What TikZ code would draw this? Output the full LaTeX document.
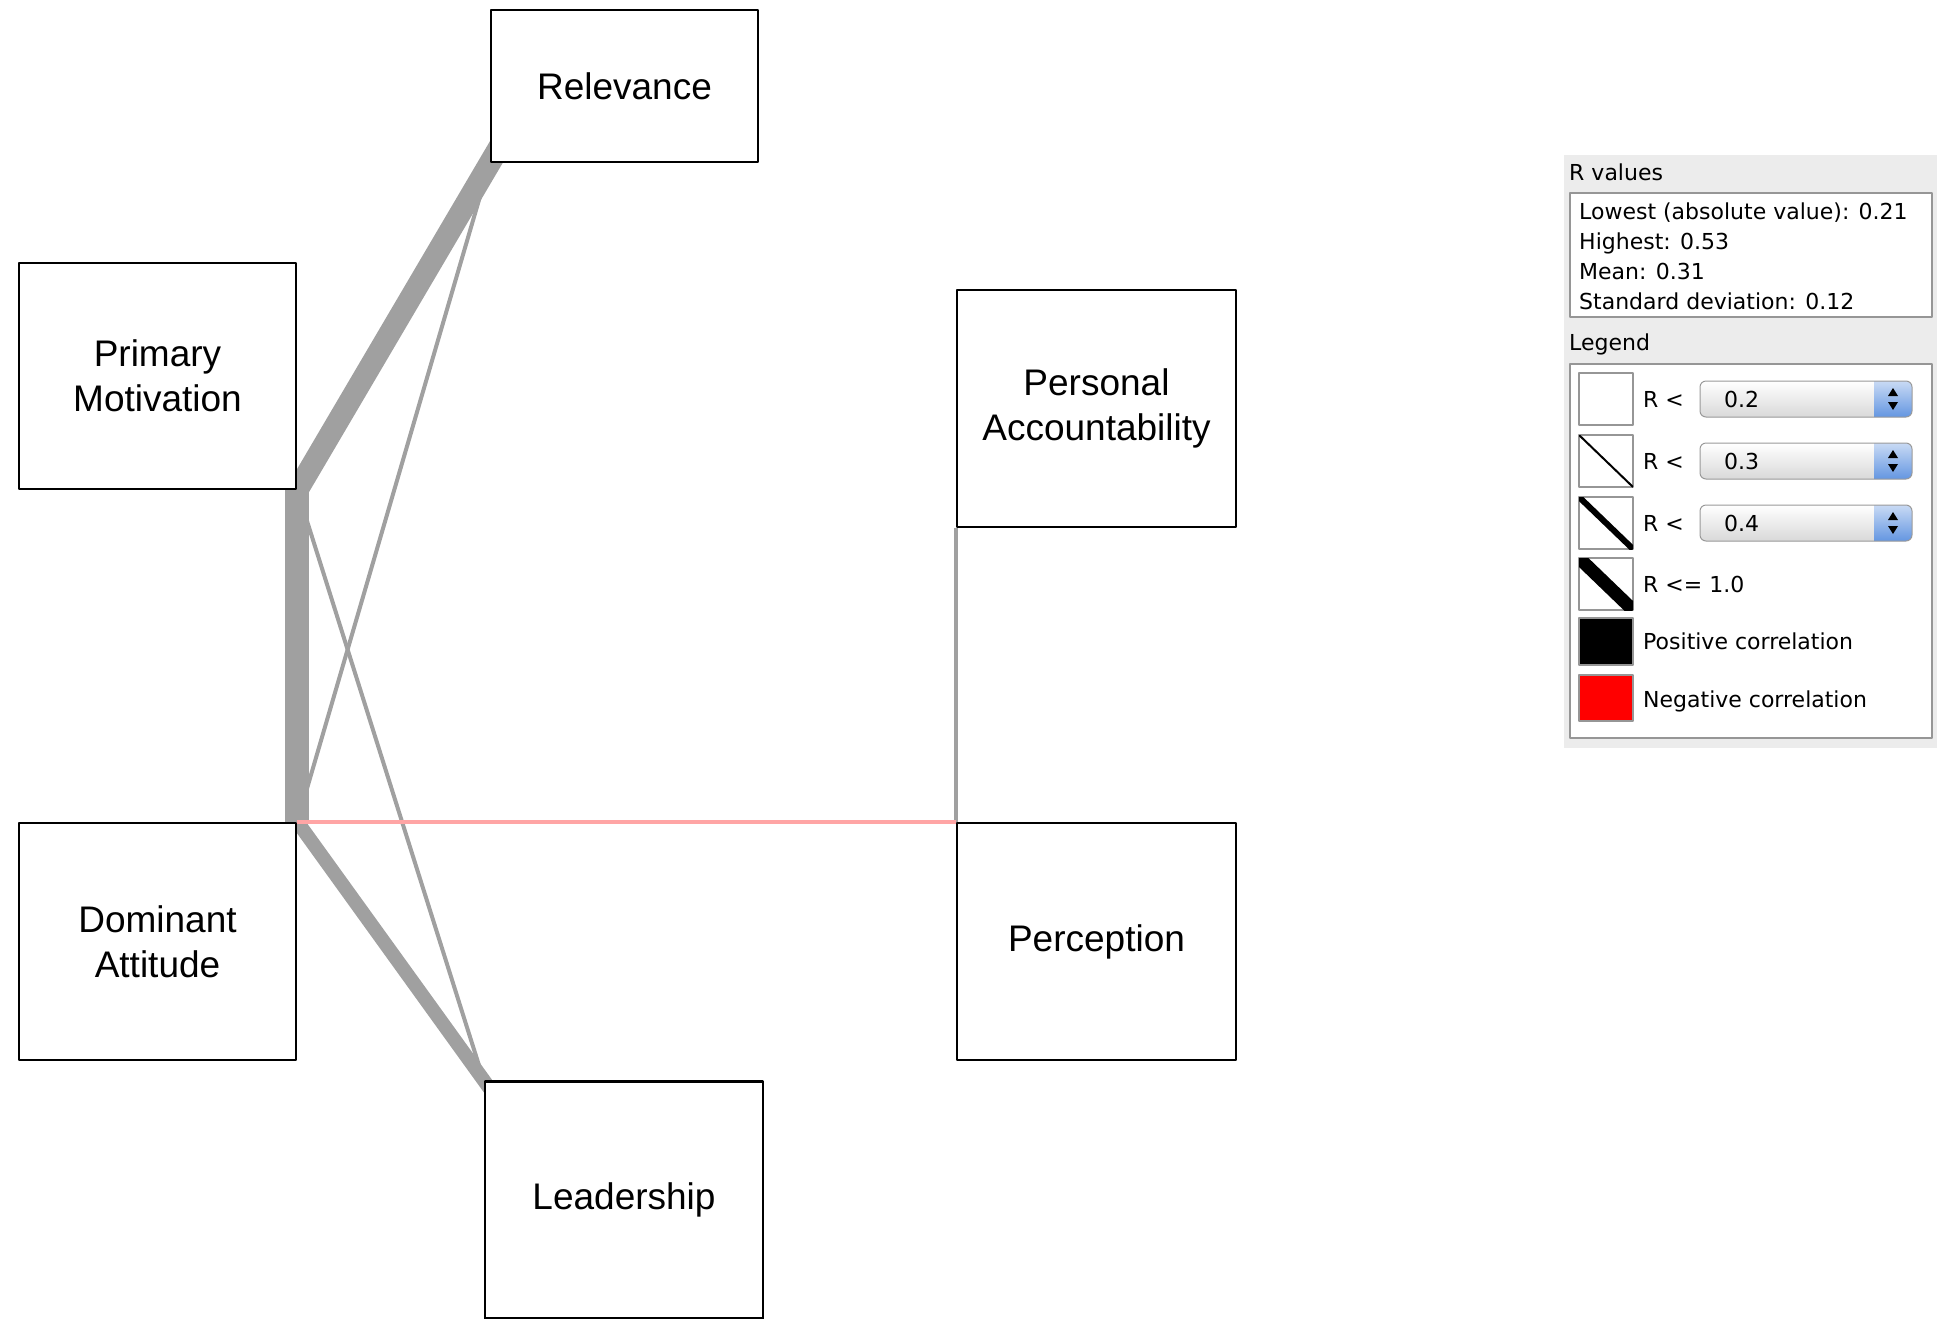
\documentclass[tikz,border=0pt]{standalone}
\usepackage{fontspec}
\setmainfont{Liberation Sans}
\newfontfamily\legfont{DejaVu Sans}
\usetikzlibrary{positioning}
\pgfdeclarelayer{bg}
\pgfsetlayers{bg,main}
\definecolor{edgegray}{RGB}{160,160,160}
\definecolor{negred}{RGB}{255,165,165}
\definecolor{panelgray}{RGB}{236,236,236}
\definecolor{framegray}{RGB}{150,150,150}
\definecolor{btnblue}{RGB}{100,150,225}
\begin{document}
\begin{tikzpicture}[x=1pt, y=-1pt, line join=round,
	factor/.style={draw, line width=2.6pt, fill=white, align=center, inner sep=0pt, font=\fontsize{37}{45}\selectfont},
	corr/.style={draw=edgegray, line cap=butt},
	into/.style={shorten >=-40pt},
	leg/.style={anchor=base west, inner sep=0pt, font=\legfont\fontsize{22}{26}\selectfont}]
	\useasboundingbox (0,0) rectangle (1949,1318);
	% factors
	\node[factor, minimum width=267pt, minimum height=152pt] (rel) at (624.5,86) {Relevance};
	\node[factor, minimum width=277pt, minimum height=226pt] (pm) at (157.5,376) {Primary\\Motivation};
	\node[factor, minimum width=279pt, minimum height=237pt] (pa) at (1096.5,408.5) {Personal\\Accountability};
	\node[factor, minimum width=277pt, minimum height=237pt] (da) at (157.5,941.5) {Dominant\\Attitude};
	\node[factor, minimum width=279pt, minimum height=237pt] (perc) at (1096.5,941.5) {Perception};
	\node[factor, minimum width=278pt, minimum height=237pt] (lead) at (624,1200) {Leadership};
	% correlations (ends run under the boxes)
	\begin{pgfonlayer}{bg}
		\draw[corr, line width=24pt] (pm.south east) -- (da.north east);
		\draw[corr, into, line width=22pt] (pm.south east) -- (rel.south west);
		\draw[corr, into, line width=14pt] (da.north east) -- (lead.north west);
		\draw[corr, into, line width=4pt] (pm.south east) -- (lead.north west);
		\draw[corr, line width=4pt] (da.north east) -- (rel.south west);
		\draw[corr, line width=4pt] (pa.south west) -- (perc.north west);
		\draw[draw=negred, line width=4pt] (da.north east) -- (perc.north west);
	\end{pgfonlayer}
	% R values panel
	\fill[panelgray] (1564,155) rectangle (1937,748);
	\node[leg] (rvtitle) at (1569,180) {R values};
	\draw[framegray, fill=white, line width=1.5pt] (1570,193) rectangle (1932,317);
	\foreach \t [count=\i] in {Lowest (absolute value): 0.21, Highest: 0.53, Mean: 0.31, Standard deviation: 0.12}
		\node[leg] (rv\i) at (1579,{219+30*(\i-1)}) {\t};
	% legend
	\node[leg] (legtitle) at (1569,350) {Legend};
	\draw[framegray, fill=white, line width=1.5pt] (1570,364) rectangle (1932,738);
	\draw[framegray, fill=white, line width=1.5pt] (1579,373) rectangle (1633,425);
	\foreach \y/\w in {461/2,523/6,584/13}{
		\draw[framegray, fill=white, line width=1.5pt] (1579,\y-26) rectangle (1633,\y+26);
		\begin{scope}
			\clip (1579,\y-26) rectangle (1633,\y+26);
			\draw[line width=\w pt] (1579,\y-26) -- (1633,\y+26);
		\end{scope}
	}
	\draw[framegray, fill=black, line width=1.5pt] (1579,618) rectangle (1633,665);
	\draw[framegray, fill=red, line width=1.5pt] (1579,675) rectangle (1633,721);
	\foreach \v/\y [count=\i] in {0.2/399,0.3/461,0.4/523}{
		\node[leg] (rl\i) at (1643,\y+8) {R \textless};
		\begin{scope}
			\clip[rounded corners=6pt] (1700,\y-18) rectangle (1912,\y+18);
			\shade[top color=white, bottom color=gray!30] (1700,\y-18) rectangle (1874,\y+18);
			\shade[top color=btnblue!35, bottom color=btnblue] (1874,\y-18) rectangle (1912,\y+18);
		\end{scope}
		\draw[gray!80, line width=1pt, rounded corners=6pt] (1700,\y-18) rectangle (1912,\y+18);
		\fill (1888,\y-3) -- (1898,\y-3) -- (1893,\y-11) -- cycle;
		\fill (1888,\y+3) -- (1898,\y+3) -- (1893,\y+11) -- cycle;
		\node[leg] (val\i) at (1724,\y+8) {\v};
	}
	\node[leg] (rl4) at (1643,592) {R \textless= 1.0};
	\node[leg] (pos) at (1643,649) {Positive correlation};
	\node[leg] (neg) at (1643,707) {Negative correlation};
\end{tikzpicture}
\end{document}
